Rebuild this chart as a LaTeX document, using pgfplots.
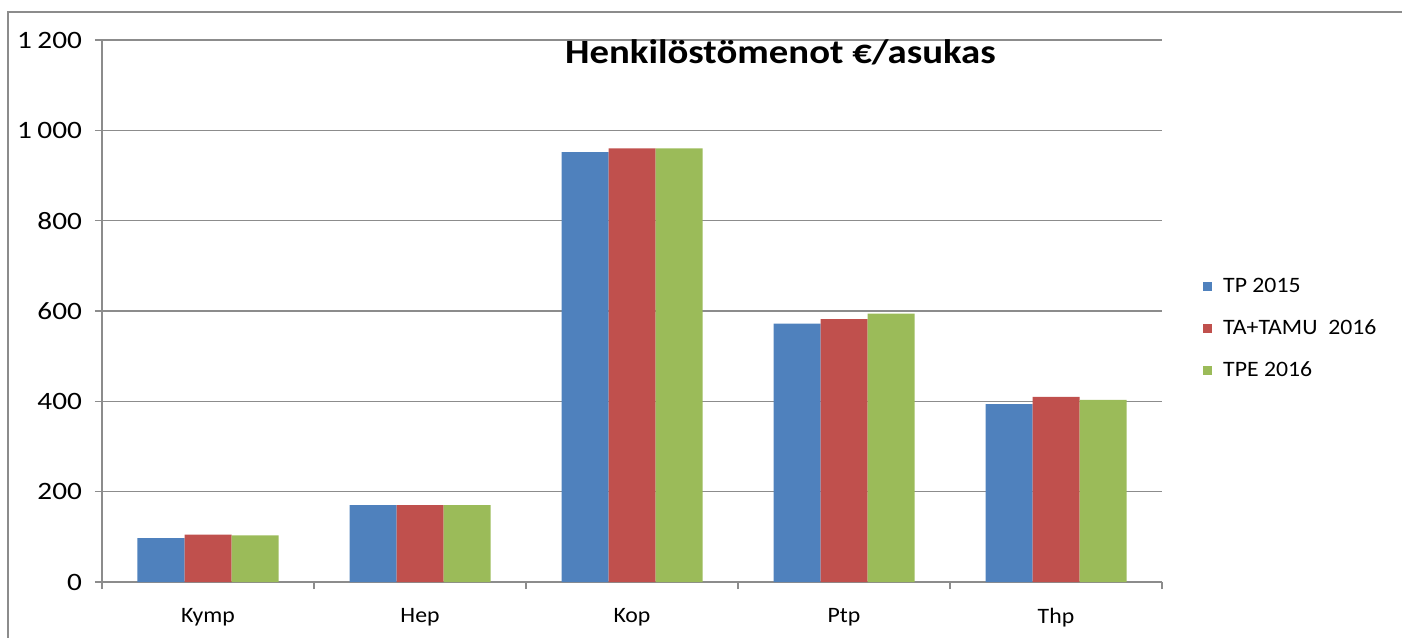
\documentclass[border=0pt]{standalone}
\usepackage{fontspec}
\setmainfont{Carlito}[FakeStretch=1.08]
\newfontfamily\titlefont{Carlito}[FakeStretch=1.14]
\newfontfamily\tickfont{Carlito}[FakeStretch=1.17]
\usepackage{pgfplots}
\pgfplotsset{compat=1.18}
\definecolor{tpblue}{HTML}{4F81BD}
\definecolor{tared}{HTML}{C0504D}
\definecolor{tpegreen}{HTML}{9BBB59}
\definecolor{gridgray}{HTML}{8C8C8C}

\begin{document}
\begin{tikzpicture}
  \begin{axis}[
      name=ax,
      scale only axis,
      width=530pt, height=271pt,
      ybar=0pt,
      bar width=23.5pt,
      xmin=-0.5, xmax=4.5,
      ymin=0, ymax=1200,
      ytick={0,200,...,1200},
      xtick={-0.5,0.5,...,4.5},
      xticklabels={Kymp,Hep,Kop,Ptp,Thp},
      x tick label as interval=true,
      axis x line*=bottom,
      axis y line*=left,
      axis line style={gridgray, line width=0.8pt},
      tick style={gridgray, line width=0.8pt},
      tick align=outside,
      major tick length=3.5pt,
      ymajorgrids,
      grid style={gridgray, line width=0.7pt},
      x tick label style={font=\fontsize{11}{13}\selectfont, yshift=-6pt},
      y tick label style={font=\fontsize{12.5}{14}\selectfont\tickfont, xshift=-3pt},
      /pgf/number format/assume math mode=true,
      /pgf/number format/1000 sep={\hspace{0.22em}},
      title={Henkilöstömenot €/asukas},
      title style={font=\fontsize{17}{20}\selectfont\titlefont\bfseries, at={(0.64,0.967)}, anchor=center, yshift=-3pt},
      legend style={draw=none, fill=none, at={(1.033,0.576)}, anchor=north west,
        font=\fontsize{11}{13}\selectfont, row sep=8pt, cells={anchor=west}},
      legend image code/.code={\fill[#1] (0pt,-2.2pt) rectangle (4.4pt,2.2pt); \path (7.9pt,0pt);},
    ]
    \addplot[fill=tpblue, draw=none] coordinates {(0,97) (1,170) (2,952) (3,572) (4,394)};
    \addplot[fill=tared, draw=none] coordinates {(0,105) (1,170) (2,960) (3,582) (4,410)};
    \addplot[fill=tpegreen, draw=none] coordinates {(0,103) (1,170) (2,960) (3,594) (4,403)};
    \legend{TP 2015, TA+TAMU\ \ 2016, TPE 2016}
  \end{axis}
  \draw[gridgray, line width=1pt] ([shift={(-47pt,-30pt)}]ax.south west) -- ([shift={(-47pt,285pt)}]ax.south west) -- ([shift={(655pt,285pt)}]ax.south west);
  \pgfresetboundingbox
  \path[use as bounding box] ([shift={(-51pt,-27.5pt)}]ax.south west) rectangle ([shift={(650pt,291pt)}]ax.south west);
\end{tikzpicture}
\end{document}
